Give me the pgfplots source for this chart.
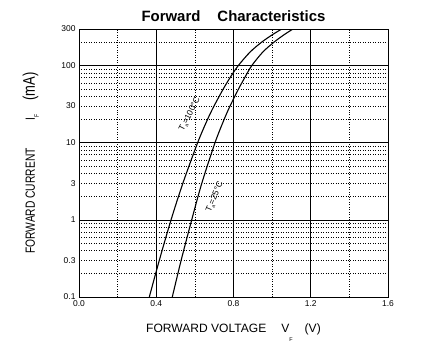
\documentclass[border=0pt]{standalone}
\usepackage{pgfplots}
\pgfplotsset{compat=1.18}
\usepackage{fontspec}
\setmainfont{Liberation Sans}
\begin{document}
\begin{tikzpicture}
\useasboundingbox (0,0) rectangle (421bp,348bp);
\begin{axis}[
  at={(79bp,51bp)}, anchor=south west,
  scale only axis, width=309bp, height=268bp,
  xmin=0, xmax=1.6, ymode=log, ymin=0.1, ymax=300,
  xtick={0,0.4,0.8,1.2,1.6},
  xticklabels={0.0,0.4,0.8,1.2,1.6},
  minor xtick={0.2,0.6,1.0,1.4},
  ytick={0.1,1,10,100},
  yticklabels={0.1,1,10,100},
  minor ytick={0.2,0.3,0.4,0.5,0.6,0.7,0.8,0.9,2,3,4,5,6,7,8,9,20,30,40,50,60,70,80,90,200},
  extra y ticks={0.3,3,30,300},
  extra y tick labels={0.3,3,30,300},
  extra y tick style={grid=none, major tick length=0pt},
  grid=both,
  major grid style={black, line width=0.8pt},
  minor grid style={black, line width=0.7pt, dash pattern=on 0.7pt off 1.8pt},
  major tick length=0pt, minor tick length=0pt,
  axis line style={black, line width=0.9pt},
  /pgf/number format/assume math mode=true,
  tick label style={font=\fontsize{8.5}{10}\selectfont},
  every axis title shift=0pt,
  title={\fontsize{15}{18}\selectfont\bfseries Forward\hspace{17bp}Characteristics},
  title style={at={(axis description cs:0.5,1.028)}, anchor=base, inner sep=0pt},
  xlabel={\fontsize{12.1}{14}\selectfont FORWARD VOLTAGE\hspace{15bp}V\raisebox{-9bp}{\fontsize{5.5}{6}\selectfont F}\hspace{12bp}(V)},
  xlabel style={at={(axis description cs:0.5,-0.1317)}, anchor=base, inner sep=0pt},
  ylabel={\scalebox{1}[1.3]{\fontsize{10.3}{12}\selectfont FORWARD CURRENT\hspace{28bp}I\raisebox{-3bp}{\fontsize{5}{6}\selectfont F}\hspace{14bp}{\fontsize{13}{14}\selectfont(mA)}}},
  ylabel style={at={(axis description cs:-0.1424,0.5)}, anchor=base, rotate=0, inner sep=0pt},
]
\addplot[black, line width=1.1pt, smooth] coordinates {
(0.364,0.1) (0.416,0.3) (0.4765,1) (0.538,3) (0.614,10) (0.665,20) (0.699,30)
(0.747,50) (0.782,70) (0.824,100) (0.885,150) (0.943,200) (0.998,250) (1.05,300)
};
\addplot[black, line width=1.1pt, smooth] coordinates {
(0.483,0.1) (0.529,0.3) (0.5835,1) (0.636,3) (0.704,10) (0.751,20) (0.782,30)
(0.826,50) (0.858,70) (0.894,100) (0.951,150) (1.007,200) (1.059,250) (1.108,300)
};
\node[rotate=63, font=\fontsize{8.5}{10}\selectfont, inner sep=0pt] at (axis cs:0.575,23.3)
  {T\raisebox{-2bp}{\fontsize{5}{6}\selectfont a}=100°C};
\node[rotate=67, font=\fontsize{8.5}{10}\selectfont, inner sep=0pt] at (axis cs:0.704,1.98)
  {T\raisebox{-2bp}{\fontsize{5}{6}\selectfont a}=25°C};
\end{axis}
\end{tikzpicture}
\end{document}
